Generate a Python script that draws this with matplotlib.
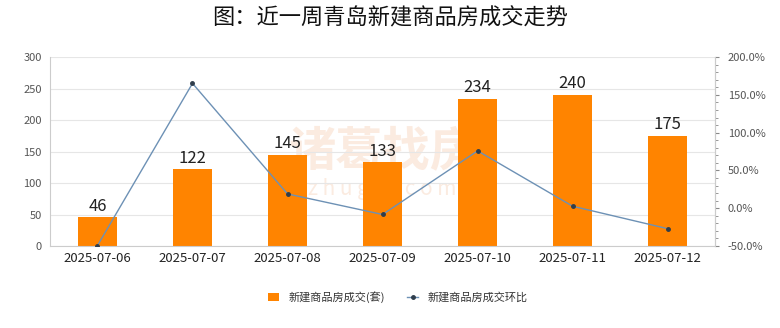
import matplotlib
matplotlib.use("Agg")
import matplotlib.pyplot as plt
from matplotlib.ticker import MultipleLocator, FuncFormatter

plt.rcParams['font.family'] = ['Noto Sans CJK SC', 'DejaVu Sans']

dates = ["2025-07-06", "2025-07-07", "2025-07-08", "2025-07-09",
         "2025-07-10", "2025-07-11", "2025-07-12"]
deals = [46, 122, 145, 133, 234, 240, 175]
change_pct = [-49.5, 165.2, 18.9, -8.3, 75.9, 2.6, -27.1]

title = "图：近一周青岛新建商品房成交走势"
bar_label = "新建商品房成交(套)"
line_label = "新建商品房成交环比"

bar_color = "#FF8400"
line_color = "#6D91B5"
grid_color = "#E6E6E6"
spine_color = "#CCCCCC"

fig = plt.figure(figsize=(7.8, 3.28), dpi=100)
fig.patch.set_facecolor("white")
ax = fig.add_axes([0.064, 0.25, 0.853, 0.576])
x = list(range(len(dates)))

# faint brand watermark behind the bars
ax.text(0.50, 0.50, "诸葛找房", transform=ax.transAxes, fontsize=34,
        color="#FBEBE0", ha="center", va="center", fontweight="bold", zorder=1)
ax.text(0.50, 0.30, "z h u g e .  c o m", transform=ax.transAxes, fontsize=15,
        color="#FBEBE0", ha="center", va="center", zorder=1)

ax.bar(x, deals, width=0.41, color=bar_color, zorder=2, label=bar_label)
for xi, v in zip(x, deals):
    ax.text(xi, v + 4, str(v), ha="center", va="bottom", fontsize=12,
            color="#222222", zorder=5)

ax.set_xlim(-0.5, len(dates) - 0.5)
ax.set_ylim(0, 300)
ax.yaxis.set_major_locator(MultipleLocator(50))
ax.set_xticks(x)
ax.set_xticklabels(dates, fontsize=9.5, color="#222222")
ax.tick_params(axis="y", length=0, labelsize=8, labelcolor="#555555", pad=6)
ax.tick_params(axis="x", length=0, pad=4)
ax.grid(axis="y", color=grid_color, linewidth=0.8, zorder=0)
ax.spines["top"].set_visible(False)
for s in ["left", "bottom", "right"]:
    ax.spines[s].set_color(spine_color)
    ax.spines[s].set_linewidth(0.8)

ax2 = ax.twinx()
ax2.set_ylim(-50, 200)
ax2.yaxis.set_major_locator(MultipleLocator(50))
ax2.yaxis.set_minor_locator(MultipleLocator(10))
ax2.yaxis.set_major_formatter(FuncFormatter(lambda v, p: f"{v:.1f}%"))
ax2.tick_params(axis="y", which="major", length=3, color="#888888",
                labelsize=8, labelcolor="#555555", pad=6)
ax2.tick_params(axis="y", which="minor", length=2, color="#888888")
for s in ["top", "left", "bottom"]:
    ax2.spines[s].set_visible(False)
ax2.spines["right"].set_color(spine_color)
ax2.spines["right"].set_linewidth(0.8)
ax2.plot(x, change_pct, color=line_color, linewidth=1.0, marker="o",
         markersize=2.5, markerfacecolor="#2F3D4C", markeredgecolor="#2F3D4C",
         zorder=4, label=line_label)

fig.text(0.5, 0.945, title, ha="center", va="center", fontsize=16,
         fontweight="medium", color="#111111")

h1, l1 = ax.get_legend_handles_labels()
h2, l2 = ax2.get_legend_handles_labels()
fig.legend(h1 + h2, l1 + l2, loc="center", bbox_to_anchor=(0.51, 0.095),
           ncol=2, frameon=False, fontsize=8, handlelength=1.0,
           handleheight=0.7, columnspacing=2.0, handletextpad=0.8,
           labelcolor="#333333")

fig.savefig("out.png", dpi=100, facecolor="white")
